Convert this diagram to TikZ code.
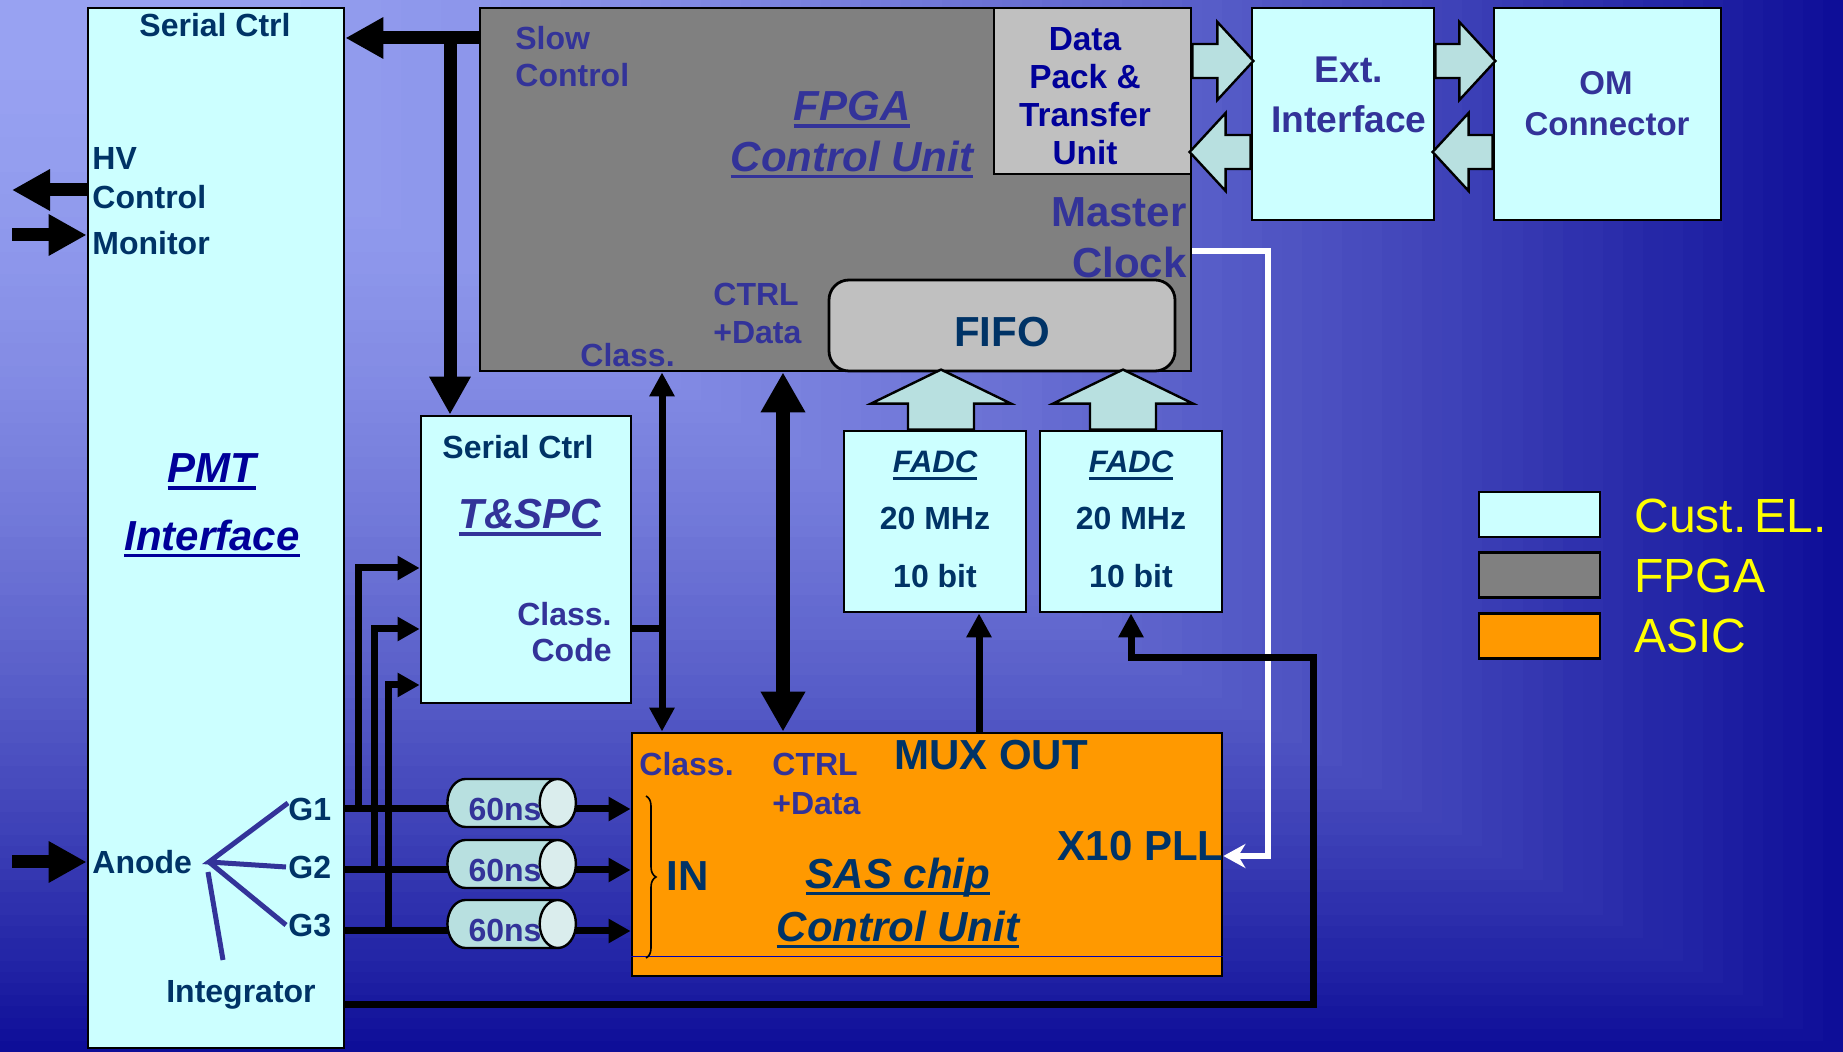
\documentclass[tikz,border=0pt]{standalone}
\usepackage{fontspec}
\setmainfont{Liberation Sans}
\usetikzlibrary{arrows.meta,shapes.geometric,decorations.pathreplacing}
\definecolor{bglight}{HTML}{98A2F2}
\definecolor{bgdark}{HTML}{0E0E98}
\definecolor{cust}{HTML}{CCFFFF}
\definecolor{fpgagrey}{HTML}{808080}
\definecolor{packgrey}{HTML}{C0C0C0}
\definecolor{asic}{HTML}{FF9900}
\definecolor{arrowfill}{HTML}{B8E0E0}
\definecolor{capfill}{HTML}{DAEDED}
\definecolor{tealtext}{HTML}{003366}
\definecolor{purptext}{HTML}{333399}
\definecolor{navytext}{HTML}{000099}
\definecolor{legendyellow}{HTML}{FFFF00}
% thick underline for the block titles
\newcommand{\uln}[1]{\setbox0\hbox{#1}\leavevmode\rlap{\rule[-3.6pt]{\wd0}{1.7pt}}\box0}

\begin{document}
\begin{tikzpicture}[x=0.5pt,y=-0.5pt,
  box/.style={draw,line width=1.4pt,inner sep=0pt},
  custbox/.style={box,fill=cust},
  fpgabox/.style={box,fill=fpgagrey},
  greybox/.style={box,fill=packgrey},
  asicbox/.style={box,fill=asic},
  lbl/.style={inner sep=0pt,text depth=0pt,font=\fontsize{16}{19}\selectfont\bfseries},
  big/.style={inner sep=0pt,text depth=0pt,font=\fontsize{21}{25}\selectfont\bfseries},
  ttl/.style={inner sep=0pt,text depth=0pt,font=\fontsize{21}{25}\selectfont\bfseries\itshape},
  legtext/.style={inner sep=0pt,text depth=0pt,font=\fontsize{24}{28}\selectfont,text=legendyellow},
  fat/.style={line width=6.5pt,-{Triangle[length=19pt,width=19.5pt]}},
  fatboth/.style={line width=7pt,{Triangle[length=20pt,width=21pt]}-{Triangle[length=20pt,width=21pt]}},
  sig/.style={line width=3.5pt},
  sigarr/.style={sig,-{Triangle[length=11pt,width=11.5pt]}},
  busarr/.style={sig,-{Triangle[length=12pt,width=12pt]}},
  busboth/.style={sig,{Triangle[length=12pt,width=12pt]}-{Triangle[length=12pt,width=12pt]}},
  clk/.style={white,line width=3pt,-{Stealth[length=11pt,width=12pt]}},
  blockarr/.style={draw,line width=1.2pt,fill=arrowfill},
  fan/.style={purptext,line width=2.5pt},
  delay/.style={cylinder,draw,line width=1.2pt,shape aspect=1.6,
    minimum height=57.5pt,minimum width=24pt,inner sep=0pt,
    font=\fontsize{16}{19}\selectfont\bfseries,
    cylinder uses custom fill,cylinder body fill=arrowfill,cylinder end fill=capfill},
  pics/fatarr/.style args={#1/#2/#3/#4}{code={
    \draw[blockarr] (0,-#1) -- (#3-#4,-#1) -- (#3-#4,-#2) -- (#3,0)
      -- (#3-#4,#2) -- (#3-#4,#1) -- (0,#1) -- cycle;}}
]
\useasboundingbox (0,0) rectangle (1843,1052);

% background, shaded out from the top left corner
\foreach \i in {0,...,91}{
  \pgfmathsetmacro\s{1-\i/92}
  \pgfmathtruncatemacro\p{100*\s^1.8}
  \fill[bgdark!\p!bglight] (0,0) rectangle (\s*1843,\s*1052);
}

% blocks
\node[custbox,minimum width=128pt,minimum height=520pt] (pmt) at (216,528) {};
\node[fpgabox,minimum width=355.5pt,minimum height=181.5pt] (fpga) at (835.5,189.5) {};
\node[greybox,minimum width=98.5pt,minimum height=83pt] (dpu) at (1092.5,91) {};
\node[greybox,rounded corners=10pt,minimum width=173pt,minimum height=45.5pt] (fifo) at (1002,325.5) {};
\node[custbox,minimum width=91pt,minimum height=106pt] (ext) at (1343,114) {};
\node[custbox,minimum width=113.5pt,minimum height=106pt] (om) at (1607.5,114) {};
\node[custbox,minimum width=105pt,minimum height=143.5pt] (tspc) at (526,559.5) {};
\node[custbox,minimum width=91pt,minimum height=90.5pt] (fadc1) at (935,521.5) {};
\node[custbox,minimum width=91pt,minimum height=90.5pt] (fadc2) at (1131,521.5) {};
\node[asicbox,minimum width=295pt,minimum height=121.5pt] (sas) at (927,854.5) {};
\draw[blue!70!black,line width=0.4pt] (sas.west|-0,956) -- (sas.east|-0,956);

% fat data arrows
\pic at (dpu.east|-0,61) {fatarr=17/39/61/36};
\pic[rotate=180] at (ext.west|-0,152) {fatarr=17/39/61/36};
\pic at (ext.east|-0,61) {fatarr=17/39/60/36};
\pic[rotate=180] at (om.west|-0,152) {fatarr=17/39/60/36};
\pic[rotate=90] at ([xshift=3pt]fadc1.north) {fatarr=33/70/60/34};
\pic[rotate=90] at ([xshift=-4pt]fadc2.north) {fatarr=33/70/60/34};

% slow control
\coordinate (scj) at (450,38);
\draw[fat] (fpga.west|-scj) -- (pmt.east|-scj);
\draw[fat] (scj) -- (tspc.north-|scj);

% HV, monitor and anode
\coordinate (hvout) at (12,190);
\coordinate (monin) at (12,235);
\coordinate (anin) at (12,862);
\draw[fat] (pmt.west|-hvout) -- (hvout);
\draw[fat] (monin) -- (pmt.west|-monin);
\draw[fat] (anin) -- (pmt.west|-anin);

% gain outputs into the SAS chip and the trigger
\foreach \y in {809,870,931}
  \draw[sigarr] (pmt.east|-0,\y) -- (sas.west|-0,\y);
\draw[sigarr] (358,809) |- (tspc.west|-0,568);
\draw[sigarr] (374,870) |- (tspc.west|-0,629);
\draw[sigarr] (388,931) |- (tspc.west|-0,685);

% classification bus and control/data
\coordinate (clsj) at (662,629);
\draw[sig] (tspc.east|-clsj) -- (clsj);
\draw[busboth] (fpga.south-|clsj) -- (sas.north-|clsj);
\draw[fatboth] (fpga.south-|783,0) -- (sas.north-|783,0);
\draw[busarr] (sas.north-|979,0) -- (fadc1.south-|979,0);

% master clock to PLL
\draw[clk] (fpga.east|-0,251) -- (1268,251) -- (1268,856) -- (sas.east|-0,856);

% integrator to second FADC
\draw[busarr] (pmt.east|-0,1005) -- (1313,1005) -- (1313,658) -| (fadc2.south);

% delay lines
\node[delay] (dly1) at (502,803) {\phantom{60ns}};
\node[delay] (dly2) at (502,864) {\phantom{60ns}};
\node[delay] (dly3) at (502,924) {\phantom{60ns}};
\node[lbl,text=purptext] (dly1t) at (505,809) {60ns};
\node[lbl,text=purptext] (dly2t) at (505,870) {60ns};
\node[lbl,text=purptext] (dly3t) at (505,930) {60ns};

% PMT interface
\node[lbl,text=tealtext] (pmtser) at (215,25) {Serial Ctrl};
\node[lbl,text=tealtext,anchor=west] (hv) at (92,159) {HV};
\node[lbl,text=tealtext,anchor=west] (hvctrl) at (92,197) {Control};
\node[lbl,text=tealtext,anchor=west] (mon) at (92,243) {Monitor};
\node[ttl,text=navytext] (pmtt1) at (212,468) {\uln{PMT}};
\node[ttl,text=navytext] (pmtt2) at (212,535) {\uln{Interface}};
\node[lbl,text=tealtext,anchor=west] (anode) at (92,862) {Anode};
\node[lbl,text=tealtext,anchor=west] (g1) at (288,809) {G1};
\node[lbl,text=tealtext,anchor=west] (g2) at (288,867) {G2};
\node[lbl,text=tealtext,anchor=west] (g3) at (288,925) {G3};
\node[lbl,text=tealtext] (integ) at (241,991) {Integrator};
\coordinate (fanc) at (209,862);
\draw[fan] ([yshift=3pt]g1.west) -- (fanc) -- ([xshift=-1pt]g2.west);
\draw[fan] (fanc) -- ([xshift=-1pt]g3.west);
\draw[fan] (208,872) -- (223,960);

% FPGA
\node[lbl,text=purptext,anchor=west] (slow) at (515,38) {Slow};
\node[lbl,text=purptext,anchor=west] (slowc) at (515,75) {Control};
\node[ttl,text=purptext] (fpgat1) at (852,106) {\uln{FPGA}};
\node[ttl,text=purptext] (fpgat2) at (852,156) {\uln{Control Unit}};
\node[inner sep=0pt,text depth=0pt,align=center,text=navytext,
  font=\fontsize{16.7}{19}\selectfont\bfseries] (dput) at (1085,96)
  {Data\\Pack \&\\Transfer\\Unit};
\node[big,text=purptext,anchor=east] (mast) at (1187,212) {Master};
\node[big,text=purptext,anchor=east] (clock) at (1187,262) {Clock};
\node[big,text=tealtext] (fifot) at (1002,332) {FIFO};
\node[lbl,text=purptext,anchor=west] (fctrl) at (713,294) {CTRL};
\node[lbl,text=purptext,anchor=west] (fdata) at (713,332) {+Data};
\node[lbl,text=purptext,anchor=west] (fcls) at (580,355) {Class.};

% external side
\node[inner sep=0pt,text depth=0pt,text=purptext,font=\fontsize{18.6}{22}\selectfont\bfseries] (extt1) at (1349,70) {Ext.};
\node[inner sep=0pt,text depth=0pt,text=purptext,font=\fontsize{18.6}{22}\selectfont\bfseries] (extt2) at (1349,119) {Interface};
\node[inner sep=0pt,text depth=0pt,text=purptext,font=\fontsize{16.5}{19}\selectfont\bfseries] (omt1) at (1606,83) {OM};
\node[inner sep=0pt,text depth=0pt,text=purptext,font=\fontsize{16.5}{19}\selectfont\bfseries] (omt2) at (1607,124) {Connector};

% trigger
\node[lbl,text=tealtext] (tser) at (518,447) {Serial Ctrl};
\node[ttl,text=purptext] (tspct) at (530,514) {\uln{T\&SPC}};
\node[lbl,text=purptext,anchor=east] (tcls) at (612,614) {Class.};
\node[lbl,text=purptext,anchor=east] (tcode) at (612,650) {Code};

% FADCs
\foreach \f in {fadc1,fadc2}{
  \node[inner sep=0pt,text depth=0pt,text=tealtext,font=\fontsize{15.5}{18}\selectfont\bfseries\itshape]
    (\f t1) at (\f.center|-0,462) {\uln{FADC}};
  \node[lbl,text=tealtext] (\f t2) at (\f.center|-0,518) {20 MHz};
  \node[lbl,text=tealtext] (\f t3) at (\f.center|-0,576) {10 bit};
}

% SAS chip
\node[lbl,text=purptext,anchor=west] (scls) at (639,764) {Class.};
\node[lbl,text=purptext,anchor=west] (sctrl) at (772,764) {CTRL};
\node[lbl,text=purptext,anchor=west] (sdata) at (772,803) {+Data};
\node[big,text=tealtext] (mux) at (991,755) {MUX OUT};
\node[big,text=tealtext,anchor=east] (pll) at (1224,846) {X10 PLL};
\node[big,text=tealtext,anchor=west] (sin) at (666,876) {IN};
\node[ttl,text=tealtext] (sast1) at (898,873) {\uln{SAS chip}};
\node[ttl,text=tealtext] (sast2) at (898,926) {\uln{Control Unit}};
\draw[decorate,decoration={brace,amplitude=5pt},line width=0.8pt] (646,796) -- (646,958);

% legend
\node[custbox,minimum width=60.5pt,minimum height=22.5pt] (keycust) at (1539.5,514.5) {};
\node[fpgabox,minimum width=60.5pt,minimum height=22.5pt] (keyfpga) at (1539.5,575) {};
\node[asicbox,minimum width=60.5pt,minimum height=22.5pt] (keyasic) at (1539.5,636) {};
\node[legtext,anchor=west] (keycustt) at (1634,516) {Cust.\,EL.};
\node[legtext,anchor=west] (keyfpgat) at (1634,576) {FPGA};
\node[legtext,anchor=west] (keyasict) at (1634,636) {ASIC};
\end{tikzpicture}
\end{document}
